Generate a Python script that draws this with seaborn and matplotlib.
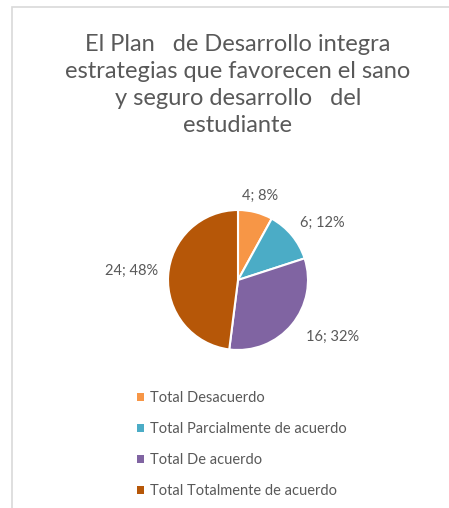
import numpy as np
import matplotlib
matplotlib.use("Agg")
import matplotlib.pyplot as plt
import seaborn as sns
from matplotlib.patches import Rectangle, Patch

# Data
categories = ["Total Desacuerdo", "Total Parcialmente de acuerdo",
              "Total De acuerdo", "Total Totalmente de acuerdo"]
counts = [4, 6, 16, 24]
percents = [8, 12, 32, 48]
colors = ["#F79646", "#4BACC6", "#8064A2", "#B65708"]
title = "El Plan   de Desarrollo integra\nestrategias que favorecen el sano\ny seguro desarrollo   del\nestudiante"

sns.set_style("white")
plt.rcParams["font.family"] = ["Lato", "DejaVu Sans"]

W, H = 449, 508
fig = plt.figure(figsize=(W / 100, H / 100), dpi=100)

# chart frame (clipped at right and bottom)
fig.patches.append(Rectangle((12 / W, -0.1), 1.2, 1.1 - 7 / H, transform=fig.transFigure,
                             fill=False, edgecolor="#D9D9D9", linewidth=1.2))

fig.text(238 / W, 1 - 85 / H, title, ha="center", va="center", fontsize=17,
         color="#595959", linespacing=1.36)

# pie axes: center (238, 280), radius 70 px
cx, cy, r = 238, 280, 70
ax = fig.add_axes([(cx - r) / W, 1 - (cy + r) / H, 2 * r / W, 2 * r / H])
wedges, _ = ax.pie(counts, colors=colors, startangle=90, counterclock=False,
                   wedgeprops=dict(edgecolor="white", linewidth=1.5))
ax.set_xlim(-1, 1)
ax.set_ylim(-1, 1)
ax.set_aspect("equal")
ax.axis("off")

# label placement (radius factor, angle in degrees) chosen like Excel's best fit
label_pos = [(1.24, 75), (1.45, 34), (1.58, -31), (1.52, 175)]
for c, p, (rf, ang) in zip(counts, percents, label_pos):
    a = np.deg2rad(ang)
    ax.text(rf * np.cos(a), rf * np.sin(a), f"{c}; {p}%", ha="center", va="center",
            fontsize=10.5, color="#595959", clip_on=False)

handles = [Patch(facecolor=col, edgecolor="none") for col in colors]
fig.legend(handles, categories, loc="upper left", bbox_to_anchor=(137 / W, 1 - 391 / H),
           frameon=False, fontsize=10.5, labelcolor="#595959", handlelength=0.5,
           handleheight=0.5, handletextpad=0.4, labelspacing=1.17,
           borderpad=0, borderaxespad=0)

fig.savefig("out.png", dpi=100, facecolor="white")
